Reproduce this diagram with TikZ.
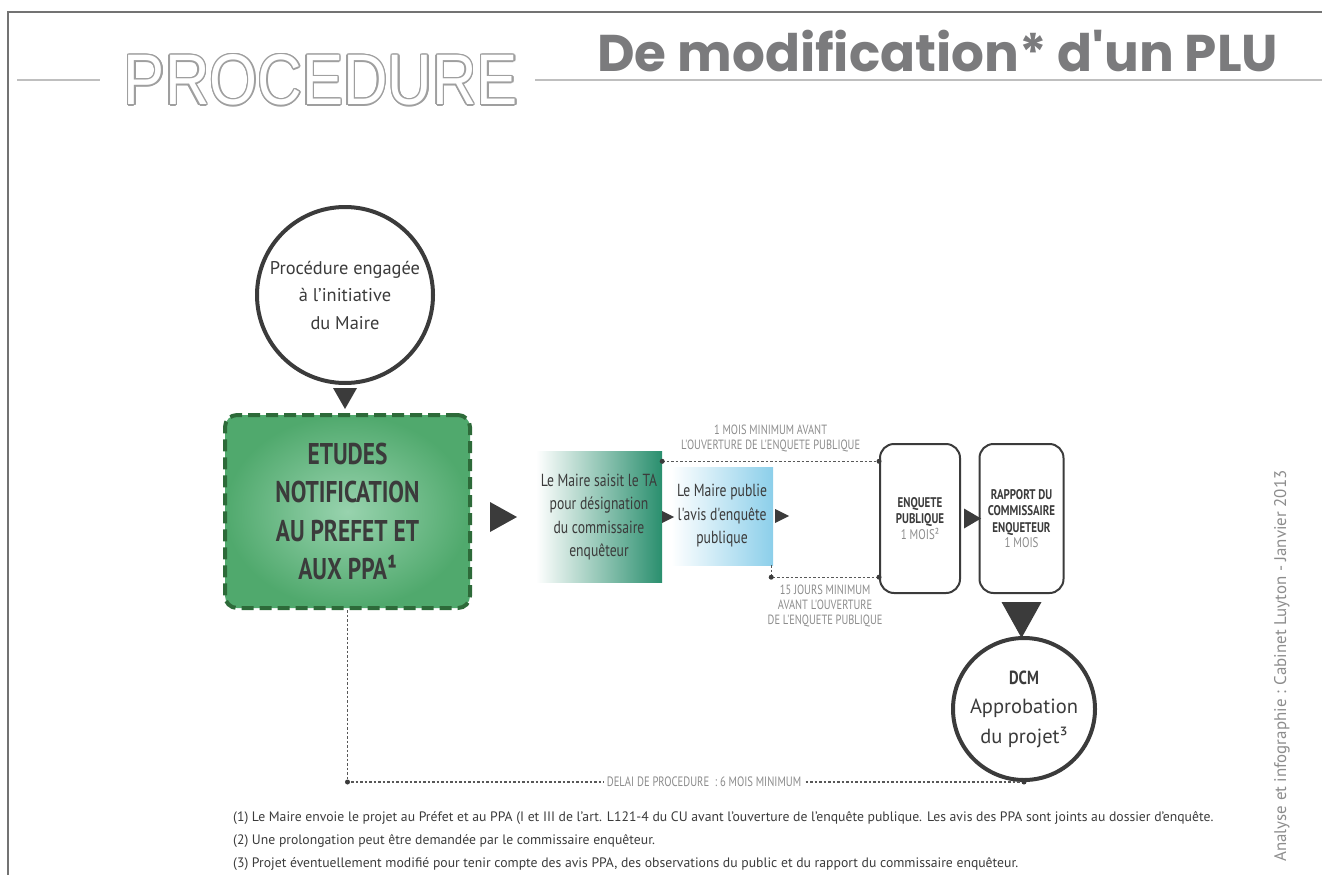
\documentclass[tikz,border=0pt]{standalone}
\usepackage{fontspec}
\setmainfont{PT Sans}
\newfontfamily\condfont[FakeStretch=0.78]{PT Sans}
\newfontfamily\titlefont{Poppins}
\newfontfamily\procfont{Liberation Sans}
\usetikzlibrary{calc}

\definecolor{dark}{HTML}{3B3B3B}
\definecolor{labelgray}{HTML}{8C8C8C}
\definecolor{titlegray}{HTML}{7B7B7D}
\definecolor{etudeslight}{HTML}{98D3AE}
\definecolor{etudesgreen}{HTML}{50A96D}
\definecolor{etudesdark}{HTML}{2D6A39}
\definecolor{saisitgreen}{HTML}{2A8F6E}
\definecolor{publieblue}{HTML}{8CCFEA}

\begin{document}
\begin{tikzpicture}[x=1pt, y=-1pt,
    ring/.style={circle, draw=dark, line width=4pt, inner sep=0pt, align=center, text=dark},
    stagebox/.style={rounded corners=14pt, draw=dark, line width=2pt, minimum width=80pt,
        minimum height=149pt, align=center, text=dark,
        font=\condfont\bfseries\fontsize{14}{16.5}\selectfont},
    stepnote/.style={align=center, text=dark, inner sep=0pt, font=\condfont\fontsize{17.5}{23.5}\selectfont},
    delai/.style={dash pattern=on 2.5pt off 2pt, line width=1.3pt, draw=dark!85},
    delaitext/.style={text=labelgray, align=center, inner sep=0pt, font=\condfont\fontsize{13.4}{15}\selectfont},
    pointe/.style={fill=dark},
    dot/.style={fill=dark}]
    \useasboundingbox (0, 0) rectangle (1322, 875);
    % cadre et titre
    \draw[line width=1.5pt, gray!90!black](8, 875)--(8, 12)--(1322, 12);
    \draw[line width=2.5pt, gray!50](17, 80)--(100, 80);
    \draw[line width=2.5pt, gray!50](535, 80)--(1322, 80);
    \foreach \a in {0, 22.5, ..., 337.5}
        \node[text=gray!75, inner sep=0pt] at ($(321, 80)+(\a:1.4)$){\resizebox{394pt}{50pt}{\procfont PROCEDURE}};
    \node[text=white, inner sep=0pt] (proc) at (321, 80){\resizebox{394pt}{50pt}{\procfont PROCEDURE}};
    \node[text=titlegray, inner sep=0pt, anchor=south west] (titre) at (597, 72){\resizebox{681pt}{!}{\titlefont\bfseries De modification* d'un PLU}};

    % etapes
    \node[ring, minimum size=176pt, font=\fontsize{18.4}{27.5}\selectfont] (start) at (345, 295){Procédure engagée\\à l'initiative\\du Maire};
    \node[draw=etudesdark, line width=4pt, dash pattern=on 12pt off 6pt, rounded corners=12pt,
        inner color=etudeslight, outer color=etudesgreen, minimum width=245pt, minimum height=193pt,
        align=center, text=dark, font=\condfont\bfseries\fontsize{30}{38.5}\selectfont] (etudes) at (347.5, 511.5){ETUDES\\NOTIFICATION\\AU PREFET ET\\AUX PPA¹};
    \node[stepnote, minimum width=126pt, minimum height=131pt, left color=white, right color=saisitgreen] (saisit) at (599, 517){Le Maire saisit le TA\\pour désignation\\du commissaire\\enquêteur};
    \node[stepnote, minimum width=102pt, minimum height=98pt, left color=white, right color=publieblue] (publie) at (722, 516){Le Maire publie\\l'avis d'enquête\\publique};
    \node[stagebox] (enquete) at (920, 518.5){ENQUETE\\PUBLIQUE\\[-1pt]{\mdseries\color{labelgray}1 MOIS²}};
    \node[stagebox, minimum width=84pt] (rapport) at (1021.5, 518.5){RAPPORT DU\\COMMISSAIRE\\ENQUETEUR\\[-1pt]{\mdseries\color{labelgray}1 MOIS}};
    \node[ring, minimum size=142pt, font=\fontsize{20.5}{29.5}\selectfont] (dcm) at (1024, 709){{\condfont\bfseries\fontsize{19}{19}\selectfont DCM}\\Approbation\\du projet³};

    % fleches
    \fill[pointe]($(start.south)+(-12, 3)$)--++(24, 0)--++(-12, 21)--cycle;
    \fill[pointe]($(etudes.east |- saisit.west)+(18, -15)$)--++(27, 15)--++(-27, 15)--cycle;
    \fill[pointe]($(saisit.east)+(0, -6)$)--++(12, 6)--++(-12, 6)--cycle;
    \fill[pointe]($(publie.east)+(2, -7)$)--++(14, 7)--++(-14, 7)--cycle;
    \fill[pointe]($(enquete.east)+(3, -10)$)--++(17, 10)--++(-17, 10)--cycle;
    \fill[pointe]($(rapport.south)+(-20, 8)$)--++(40, 0)--++(-20, 36)--cycle;

    % delais
    \coordinate (m1) at ($(saisit.north east)+(0, 10)$);
    \coordinate (m2) at (m1 -| enquete.west);
    \draw[delai](m1)--(m2);
    \fill[dot](m1)circle(2.5)(m2)circle(2.5);
    \node[delaitext, anchor=south] (mois) at ($(m1)!0.5!(m2)+(0, -9)$){1 MOIS MINIMUM AVANT\\L'OUVERTURE DE L'ENQUETE PUBLIQUE};
    \coordinate (q1) at ($(publie.south east)+(-2, 12)$);
    \coordinate (q2) at (q1 -| enquete.west);
    \draw[delai](publie.south east -| q1)--(q1)--(q2);
    \fill[dot](q1)circle(2.5)(q2)circle(2.5);
    \node[delaitext, anchor=north] (jours) at ($(q1)!0.5!(q2)+(0, 8)$){15 JOURS MINIMUM\\AVANT L'OUVERTURE\\DE L'ENQUETE PUBLIQUE};
    \coordinate (d1) at (etudes.south |- dcm.south);
    \draw[delai](etudes.south)--(d1)--(dcm.south);
    \fill[dot](d1)circle(2.5)(dcm.south)circle(2.5);
    \node[delaitext, fill=white, inner sep=3pt, font=\condfont\fontsize{13.6}{13.6}\selectfont] (duree) at ($(d1)!0.527!(dcm.south)$){DELAI DE PROCEDURE\ \ : 6 MOIS MINIMUM};

    % notes
    \node[anchor=west, inner sep=0pt, text=dark, font=\fontsize{13.7}{13.7}\selectfont] (note1) at (233, 818){(1) Le Maire envoie le projet au Préfet et au PPA (I et III de l'art. L121-4 du CU avant l'ouverture de l'enquête publique. Les avis des PPA sont joints au dossier d'enquête.};
    \node[anchor=west, inner sep=0pt, text=dark, font=\fontsize{13.7}{13.7}\selectfont] (note2) at (233, 841){(2) Une prolongation peut être demandée par le commissaire enquêteur.};
    \node[anchor=west, inner sep=0pt, text=dark, font=\fontsize{13.7}{13.7}\selectfont] (note3) at (233, 864){(3) Projet éventuellement modifié pour tenir compte des avis PPA, des observations du public et du rapport du commissaire enquêteur.};
    \node[rotate=90, text=labelgray, inner sep=0pt, font=\fontsize{16.9}{16.9}\selectfont] (credit) at (1282, 666){Analyse et infographie : Cabinet Luyton - Janvier 2013};
\end{tikzpicture}
\end{document}
